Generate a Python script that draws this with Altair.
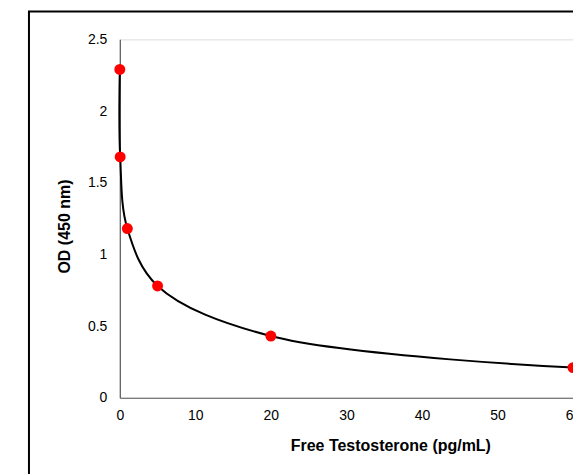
import altair as alt
import pandas as pd

conc = [0, 0.05, 1, 5, 20, 60]
od = [2.29, 1.68, 1.18, 0.78, 0.43, 0.21]
x_ticks = [0, 10, 20, 30, 40, 50, 60]
y_ticks = [0, 0.5, 1, 1.5, 2, 2.5]

df = pd.DataFrame({"conc": conc, "od": od})
FONT = "Liberation Sans"

x = alt.X("conc:Q", scale=alt.Scale(domain=[0, 60], nice=False),
          axis=alt.Axis(values=x_ticks, title="Free Testosterone (pg/mL)", grid=False, format="d",
                        ticks=False, domainColor="#595959", domainWidth=1.2,
                        labelFont=FONT, labelFontSize=14, labelColor="#000", labelPadding=11,
                        titleFont=FONT, titleFontSize=16, titleFontWeight="bold", titleColor="#000",
                        titleX=271, titleY=53, titleBaseline="alphabetic", titleAlign="center",
                        labelFlush=False))
y = alt.Y("od:Q", scale=alt.Scale(domain=[0, 2.5], nice=False),
          axis=alt.Axis(values=y_ticks, title="OD (450 nm)", grid=False, ticks=False, format="~g",
                        domainColor="#595959", domainWidth=1.2,
                        labelFont=FONT, labelFontSize=14, labelColor="#000", labelPadding=13,
                        titleFont=FONT, titleFontSize=16, titleFontWeight="bold", titleColor="#000",
                        titleX=-50, titleY=187, titleAngle=270, titleBaseline="alphabetic",
                        titleAlign="center", labelFlush=False))

base = alt.Chart(df)
frame = alt.Chart(pd.DataFrame({"a": [0]})).mark_rect(
    fill=None, stroke="#000", strokeWidth=2, clip=False
).encode(x=alt.value(-91), y=alt.value(-28), x2=alt.value(700), y2=alt.value(600))

line = base.mark_line(color="#000", strokeWidth=2, interpolate="catmull-rom", clip=False).encode(x=x, y=y)
pts = base.mark_circle(color="#ff0000", opacity=1, size=120, clip=False).encode(x=x, y=y)

chart = alt.layer(frame, line, pts).properties(
    width=454, height=359,
    autosize=alt.AutoSizeParams(type="none"),
    padding={"left": 112, "top": 31, "right": 0, "bottom": 80},
).configure_view(stroke=None).configure(background="white")

chart.save("out.html", embed_options={"renderer": "svg", "actions": False})
